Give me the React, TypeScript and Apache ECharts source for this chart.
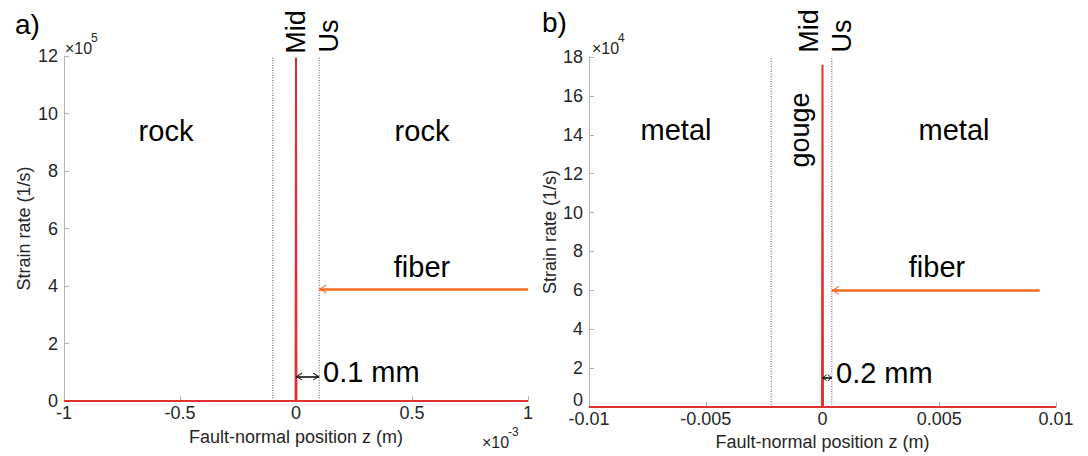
import React, { useEffect, useRef } from "react";
import * as echarts from "echarts";

// Panel a) rock / fiber
const leftZ = [-1e-3, -2e-6, 0, 2e-6, 1e-3];
const leftRate = [0, 0, 1.195e6, 0, 0];
const leftDotted = [-1e-4, 1e-4];
const leftFiberY = 3.9e5;
const leftGapY = 0.85e5;
const leftXTicks = { min: -1e-3, max: 1e-3, interval: 5e-4 };
const leftYTicks = { min: 0, max: 1.2e6, interval: 2e5 };

// Panel b) metal / gouge
const rightZ = [-0.01, -2e-5, 0, 2e-5, 0.01];
const rightRate = [0, 0, 1.76e5, 0, 0];
const rightDotted = [-0.0022, 0.0004];
const rightFiberY = 6e4;
const rightFiberStart = 0.0093;
const rightGapY = 1.5e4;
const rightXTicks = { min: -0.01, max: 0.01, interval: 0.005 };
const rightYTicks = { min: 0, max: 1.8e5, interval: 2e4 };

const FONT = "Liberation Sans, Arial, sans-serif";
const RED = "#e0302f";
const ORANGE = "#f26d21";
const AXIS = "#b3b3b3";
const LABEL = "#262626";
const CHEVRON = "path://M5,0 L10,10 L8.6,10 L5,2.6 L1.4,10 L0,10 Z";

function txt(text: string, x: number, y: number, size: number, opts: any = {}) {
  return {
    type: "text",
    x,
    y,
    rotation: opts.rotation || 0,
    silent: true,
    style: {
      text,
      x: 0,
      y: 0,
      fontSize: size,
      fontFamily: FONT,
      fill: opts.fill || "#000",
      align: opts.align || "center",
      verticalAlign: "middle",
    },
  };
}

export default function App() {
  const ref = useRef<HTMLDivElement>(null);
  useEffect(() => {
    if (!ref.current) return;
    const chart = echarts.init(ref.current, undefined, { renderer: "svg" });
    const axisCommon = {
      type: "value",
      axisLine: { show: true, onZero: false, lineStyle: { color: AXIS, width: 1 } },
      axisTick: { show: true, inside: true, length: 5, lineStyle: { color: AXIS } },
      splitLine: { show: false },
      nameLocation: "middle",
      nameTextStyle: { fontSize: 18, fontFamily: FONT, color: LABEL },
    };
    const labelStyle = { fontSize: 18, fontFamily: FONT, color: LABEL };
    const dottedSeries = (xs: number[], max: number, idx: number) =>
      xs.map((x) => ({
        type: "line",
        xAxisIndex: idx,
        yAxisIndex: idx,
        data: [
          [x, 0],
          [x, max],
        ],
        symbol: "none",
        silent: true,
        z: 1,
        lineStyle: { color: "#555", width: 1, type: [1, 1.5] },
      }));
    const arrowPair = (x0: number, x1: number, y: number, color: string, width: number, startSym: string, size: number[]) => [
      {
        coord: [x0, y],
        symbol: startSym,
        symbolSize: size,
        symbolOffset: [0, size[1] / 2],
        lineStyle: { color, width, type: "solid" },
        itemStyle: { color },
      },
      { coord: [x1, y], symbol: CHEVRON, symbolSize: size, symbolOffset: [0, size[1] / 2], itemStyle: { color } },
    ];
    const option: any = {
      animation: false,
      grid: [
        { left: 64, top: 56, width: 464, height: 345 },
        { left: 589, top: 57, width: 467, height: 350 },
      ],
      xAxis: [
        {
          ...axisCommon,
          gridIndex: 0,
          ...leftXTicks,
          name: "Fault-normal position z (m)",
          nameGap: 27,
          axisLabel: {
            ...labelStyle,
            margin: 3,
            formatter: (v: number) => String(Math.round(v * 1e4) / 10),
          },
        },
        {
          ...axisCommon,
          gridIndex: 1,
          ...rightXTicks,
          name: "Fault-normal position z (m)",
          nameGap: 26,
          axisLabel: {
            ...labelStyle,
            margin: 3,
            formatter: (v: number) => String(parseFloat(v.toFixed(4))),
          },
        },
      ],
      yAxis: [
        {
          ...axisCommon,
          gridIndex: 0,
          ...leftYTicks,
          name: "Strain rate (1/s)",
          nameGap: 31,
          axisLabel: { ...labelStyle, margin: 6, formatter: (v: number) => String(Math.round(v / 1e5)) },
        },
        {
          ...axisCommon,
          gridIndex: 1,
          ...rightYTicks,
          name: "Strain rate (1/s)",
          nameGap: 28,
          axisLabel: {
            ...labelStyle,
            margin: 6,
            formatter: (v: number) => (v === 0 ? "{z|0}" : String(Math.round(v / 1e4))),
            rich: { z: { fontSize: 18, fontFamily: FONT, color: LABEL, padding: [0, 0, 14, 0] } },
          },
        },
      ],
      series: [
        ...dottedSeries(leftDotted, leftYTicks.max, 0),
        ...dottedSeries(rightDotted, rightYTicks.max, 1),
        {
          type: "line",
          xAxisIndex: 0,
          yAxisIndex: 0,
          data: leftZ.map((z, i) => [z, leftRate[i]]),
          symbol: "none",
          z: 3,
          lineStyle: { color: RED, width: 2 },
          markLine: {
            silent: true,
            animation: false,
            label: { show: false },
            data: [
              arrowPair(leftXTicks.max, leftDotted[1], leftFiberY, ORANGE, 2.5, "none", [9, 7]),
              arrowPair(0, leftDotted[1], leftGapY, "#000", 1.5, CHEVRON, [8, 6]),
            ],
          },
        },
        {
          type: "line",
          xAxisIndex: 1,
          yAxisIndex: 1,
          data: rightZ.map((z, i) => [z, rightRate[i]]),
          symbol: "none",
          z: 3,
          lineStyle: { color: RED, width: 2 },
          markLine: {
            silent: true,
            animation: false,
            label: { show: false },
            data: [
              arrowPair(rightFiberStart, rightDotted[1], rightFiberY, ORANGE, 2.5, "none", [9, 7]),
              arrowPair(0, rightDotted[1], rightGapY, "#000", 1.5, CHEVRON, [7, 4]),
            ],
          },
        },
      ],
      graphic: [
        txt("a)", 15, 24, 28, { align: "left" }),
        txt("b)", 542, 22, 28, { align: "left" }),
        txt("×10", 65, 48, 16, { align: "left", fill: LABEL }),
        txt("5", 91, 38, 12, { align: "left", fill: LABEL }),
        txt("×10", 592, 48, 16, { align: "left", fill: LABEL }),
        txt("4", 618, 38, 12, { align: "left", fill: LABEL }),
        txt("×10", 482, 442, 16, { align: "left", fill: LABEL }),
        txt("-3", 508, 432, 12, { align: "left", fill: LABEL }),
        txt("Mid", 296, 32, 27, { rotation: Math.PI / 2 }),
        txt("Us", 329, 36, 27, { rotation: Math.PI / 2 }),
        txt("Mid", 809, 31, 27, { rotation: Math.PI / 2 }),
        txt("Us", 842, 36, 27, { rotation: Math.PI / 2 }),
        txt("gouge", 800, 130, 27, { rotation: Math.PI / 2 }),
        txt("rock", 166, 131, 29),
        txt("rock", 422, 131, 29),
        txt("fiber", 422, 267, 29),
        txt("metal", 676, 130, 29),
        txt("metal", 954, 130, 29),
        txt("fiber", 937, 267, 29),
        txt("0.1 mm", 323, 372, 29, { align: "left" }),
        txt("0.2 mm", 836, 373, 29, { align: "left" }),
      ],
    };
    chart.setOption(option);
    return () => chart.dispose();
  }, []);
  return (
    <div
      ref={ref}
      style={{ position: "fixed", left: 0, top: 0, width: 1088, height: 456, background: "#fff" }}
    />
  );
}
